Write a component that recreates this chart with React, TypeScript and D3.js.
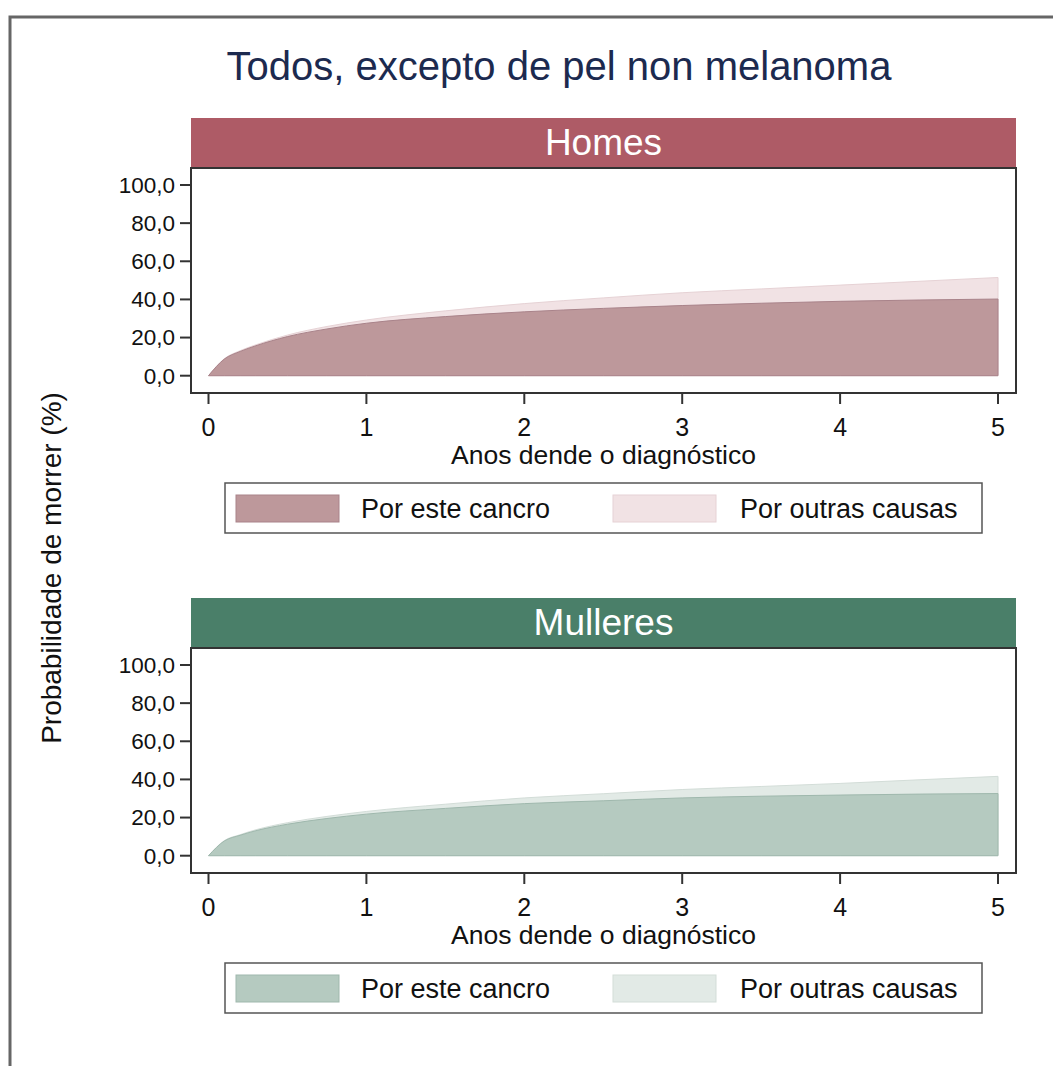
import React from "react";
import * as d3 from "d3";

const TITLE = "Todos, excepto de pel non melanoma";
const Y_LABEL = "Probabilidade de morrer (%)";
const X_LABEL = "Anos dende o diagnóstico";
const LEGEND_LABELS = ["Por este cancro", "Por outras causas"];
const X_TICKS = [0, 1, 2, 3, 4, 5];
const Y_TICKS = [0, 20, 40, 60, 80, 100];

const years = [0, 0.1, 0.2, 0.3, 0.5, 0.75, 1, 1.5, 2, 2.5, 3, 3.5, 4, 4.5, 5];
const homesCancer = [0, 8.7, 12.7, 15.7, 20.5, 24.5, 27.5, 31, 33.5, 35.3, 36.8, 38, 39, 39.7, 40.2];
const homesTotal = [0, 8.9, 13.1, 16.2, 21.3, 25.8, 29.2, 34, 37.8, 40.8, 43.5, 45.5, 47.5, 49.5, 51.5];
const mulleresCancer = [0, 7.7, 10.7, 13.1, 16.5, 19.5, 21.8, 24.8, 27.3, 28.8, 30.3, 31.2, 31.8, 32.3, 32.6];
const mulleresTotal = [0, 7.9, 11, 13.6, 17.3, 20.6, 23.2, 27, 30.3, 32.5, 34.7, 36.3, 37.9, 39.8, 41.6];

const panels = [
  {
    name: "Homes",
    cancer: homesCancer,
    total: homesTotal,
    header: "#ae5b66",
    dark: "#bd989b",
    darkStroke: "#a9838a",
    light: "#f1e2e4",
    lightStroke: "#e6d2d5",
  },
  {
    name: "Mulleres",
    cancer: mulleresCancer,
    total: mulleresTotal,
    header: "#4a7f69",
    dark: "#b5cac0",
    darkStroke: "#9fb8ad",
    light: "#e2eae6",
    lightStroke: "#d3ddd8",
  },
];

const FONT = "'Liberation Sans', Arial, Helvetica, sans-serif";

function Panel({ p, top }: { p: any; top: number }) {
  const frameL = 191;
  const frameR = 1016;
  const headerTop = top;
  const headerBot = top + 50;
  const frameBot = top + 275;
  const x = d3.scaleLinear().domain([0, 5]).range([208.5, 998]);
  const y = d3.scaleLinear().domain([0, 100]).range([top + 257.7, top + 67]);
  const pts = years.map((t, i) => ({ t, c: p.cancer[i], tot: p.total[i] }));
  const curve = d3.curveMonotoneX;
  const areaTotal = d3
    .area<any>()
    .x((d) => x(d.t))
    .y0(() => y(0))
    .y1((d) => y(d.tot))
    .curve(curve);
  const areaCancer = d3
    .area<any>()
    .x((d) => x(d.t))
    .y0(() => y(0))
    .y1((d) => y(d.c))
    .curve(curve);
  const fmt = (v: number) => v.toFixed(1).replace(".", ",");
  const legTop = top + 365;
  const cx = (frameL + frameR) / 2;
  return (
    <g>
      <rect x={frameL} y={headerTop} width={frameR - frameL} height={headerBot - headerTop} fill={p.header} />
      <text x={cx} y={headerTop + 37} textAnchor="middle" fill="#fff" fontSize={37} fontFamily={FONT}>
        {p.name}
      </text>
      <rect x={frameL} y={headerBot} width={frameR - frameL} height={frameBot - headerBot} fill="#fff" />
      <path d={areaTotal(pts) || ""} fill={p.light} stroke={p.lightStroke} strokeWidth={1} />
      <path d={areaCancer(pts) || ""} fill={p.dark} stroke={p.darkStroke} strokeWidth={1} />
      <rect
        x={frameL}
        y={headerBot}
        width={frameR - frameL}
        height={frameBot - headerBot}
        fill="none"
        stroke="#333"
        strokeWidth={2}
      />
      {Y_TICKS.map((v) => (
        <g key={v}>
          <line x1={frameL - 11} x2={frameL} y1={y(v)} y2={y(v)} stroke="#333" strokeWidth={2} />
          <text
            x={frameL - 16}
            y={y(v)}
            dy="0.35em"
            textAnchor="end"
            fontSize={22.5}
            fill="#111"
            fontFamily={FONT}
          >
            {fmt(v)}
          </text>
        </g>
      ))}
      {X_TICKS.map((v) => (
        <g key={v}>
          <line x1={x(v)} x2={x(v)} y1={frameBot} y2={frameBot + 11} stroke="#333" strokeWidth={2} />
          <text x={x(v)} y={top + 317.5} textAnchor="middle" fontSize={25} fill="#111" fontFamily={FONT}>
            {v}
          </text>
        </g>
      ))}
      <text x={cx} y={top + 345.5} textAnchor="middle" fontSize={26.5} fill="#111" fontFamily={FONT}>
        {X_LABEL}
      </text>
      <rect x={225} y={legTop} width={757} height={50} fill="#fff" stroke="#555" strokeWidth={1.5} />
      {[
        { sx: 236, tx: 361, fill: p.dark, stroke: p.darkStroke },
        { sx: 613, tx: 740, fill: p.light, stroke: p.lightStroke },
      ].map((l, i) => (
        <g key={i}>
          <rect x={l.sx} y={legTop + 12} width={103} height={27} fill={l.fill} stroke={l.stroke} strokeWidth={1} />
          <text x={l.tx} y={legTop + 35} fontSize={27} fill="#111" fontFamily={FONT}>
            {LEGEND_LABELS[i]}
          </text>
        </g>
      ))}
    </g>
  );
}

export default function App() {
  return (
    <svg
      width={1053}
      height={1066}
      style={{ position: "absolute", left: 0, top: 0, background: "#fff" }}
    >
      <rect x={0} y={0} width={1053} height={1066} fill="#fff" />
      <rect x={10} y={17} width={1100} height={1100} fill="none" stroke="#666" strokeWidth={3} />
      <text x={559} y={80} textAnchor="middle" fontSize={40} fill="#1c2a4f" fontFamily={FONT}>
        {TITLE}
      </text>
      <text
        transform="translate(61,568) rotate(-90)"
        textAnchor="middle"
        fontSize={28}
        fill="#111"
        fontFamily={FONT}
      >
        {Y_LABEL}
      </text>
      {panels.map((p, i) => (
        <Panel key={p.name} p={p} top={118 + i * 480} />
      ))}
    </svg>
  );
}
